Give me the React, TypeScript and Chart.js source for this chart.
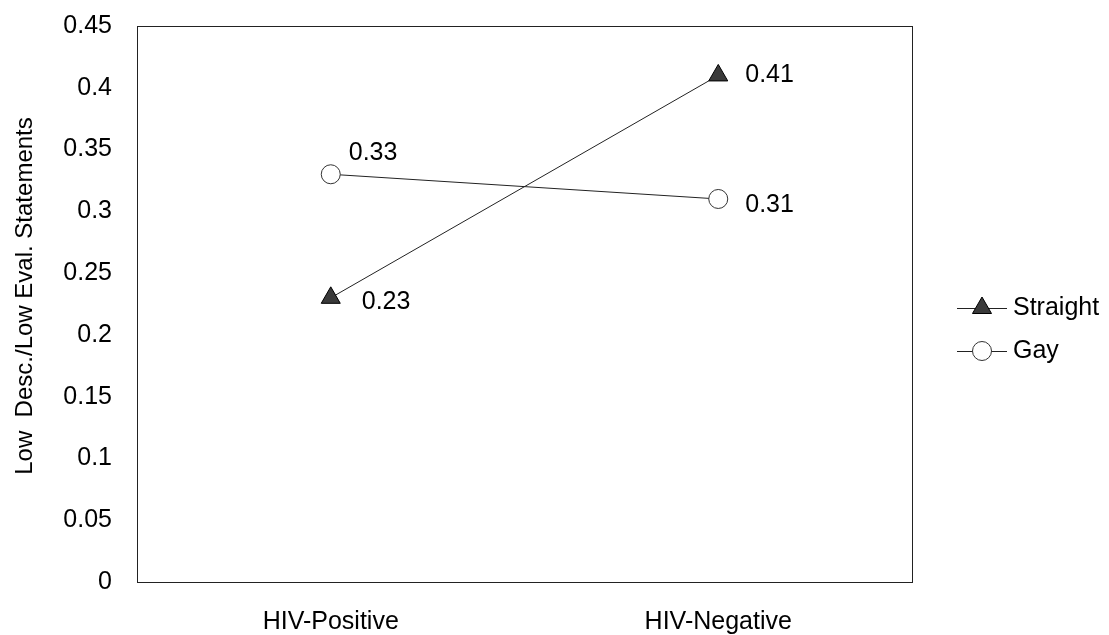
import React, { useEffect, useRef } from "react";
import { Chart, registerables } from "chart.js";

Chart.register(...registerables);

const categories = ["HIV-Positive", "HIV-Negative"];
const straightValues = [0.23, 0.41];
const gayValues = [0.33, 0.31];
const seriesNames = ["Straight", "Gay"];
const yTitle = "Low  Desc./Low Eval. Statements";
const yMin = 0;
const yMax = 0.45;
const yStep = 0.05;

const FONT = "'Liberation Sans', Arial, sans-serif";
const FS = 25;
const TITLE_FS = 24;

const labelOffsets = [
  [[31, 4], [27, 0]],
  [[18, -21], [27, 6]],
];

const framePlugin = {
  id: "frame",
  afterDraw(chart: any) {
    const { ctx, chartArea } = chart;
    ctx.save();
    ctx.strokeStyle = "#222";
    ctx.lineWidth = 1;
    ctx.strokeRect(
      Math.round(chartArea.left) + 0.5,
      Math.round(chartArea.top) + 0.5,
      Math.round(chartArea.right - chartArea.left),
      Math.round(chartArea.bottom - chartArea.top)
    );
    ctx.translate(25, 296);
    ctx.rotate(-Math.PI / 2);
    ctx.fillStyle = "#000";
    ctx.font = `${TITLE_FS}px ${FONT}`;
    ctx.textAlign = "center";
    ctx.textBaseline = "middle";
    ctx.fillText(yTitle, 0, 0);
    ctx.restore();
  },
};

const labelPlugin = {
  id: "pointLabels",
  afterDatasetsDraw(chart: any) {
    const { ctx } = chart;
    ctx.save();
    ctx.font = `${FS}px ${FONT}`;
    ctx.fillStyle = "#000";
    ctx.textAlign = "left";
    ctx.textBaseline = "middle";
    chart.data.datasets.forEach((ds: any, di: number) => {
      const meta = chart.getDatasetMeta(di);
      meta.data.forEach((pt: any, i: number) => {
        const [dx, dy] = labelOffsets[di][i];
        ctx.fillText(String(ds.data[i]), pt.x + dx, pt.y + dy);
      });
    });
    ctx.restore();
  },
};

const legendPlugin = {
  id: "customLegend",
  afterDraw(chart: any) {
    const { ctx } = chart;
    const x0 = 957;
    const x1 = 1007;
    const mx = 982;
    const ys = [308, 351];
    ctx.save();
    chart.data.datasets.forEach((ds: any, i: number) => {
      const y = ys[i];
      ctx.strokeStyle = "#222";
      ctx.lineWidth = 1;
      ctx.beginPath();
      ctx.moveTo(x0, y + 0.5);
      ctx.lineTo(x1, y + 0.5);
      ctx.stroke();
      ctx.beginPath();
      if (ds.pointStyle === "triangle") {
        const r = 11;
        ctx.moveTo(mx, y - r);
        ctx.lineTo(mx + r * 0.866, y + r * 0.5);
        ctx.lineTo(mx - r * 0.866, y + r * 0.5);
        ctx.closePath();
      } else {
        ctx.arc(mx, y, 9.5, 0, Math.PI * 2);
      }
      ctx.fillStyle = ds.pointBackgroundColor;
      ctx.fill();
      ctx.strokeStyle = ds.pointBorderColor;
      ctx.stroke();
      ctx.fillStyle = "#000";
      ctx.font = `${FS}px ${FONT}`;
      ctx.textAlign = "left";
      ctx.textBaseline = "middle";
      ctx.fillText(ds.label, 1013, y);
    });
    ctx.restore();
  },
};

export default function App() {
  const ref = useRef<HTMLCanvasElement>(null);
  useEffect(() => {
    if (!ref.current) return;
    const chart = new Chart(ref.current, {
      type: "line",
      data: {
        labels: categories,
        datasets: [
          {
            label: seriesNames[0],
            data: straightValues,
            borderColor: "#222",
            borderWidth: 1,
            pointStyle: "triangle",
            pointRadius: 11,
            pointBackgroundColor: "#3a3a3a",
            pointBorderColor: "#000",
            pointBorderWidth: 1,
            fill: false,
          } as any,
          {
            label: seriesNames[1],
            data: gayValues,
            borderColor: "#222",
            borderWidth: 1,
            pointStyle: "circle",
            pointRadius: 9.5,
            pointBackgroundColor: "#fff",
            pointBorderColor: "#333",
            pointBorderWidth: 1,
            fill: false,
          } as any,
        ],
      },
      options: {
        animation: false,
        responsive: false,
        maintainAspectRatio: false,
        layout: { padding: { left: 0, top: 26, right: 197, bottom: 0 } },
        plugins: {
          legend: { display: false },
          tooltip: { enabled: false },
        },
        scales: {
          x: {
            type: "category",
            offset: true,
            grid: { display: false, drawTicks: false },
            border: { display: false },
            ticks: {
              color: "#000",
              font: { family: FONT, size: FS },
              padding: 25,
              maxRotation: 0,
            },
            afterFit: (s: any) => {
              s.height = 53;
            },
          },
          y: {
            min: yMin,
            max: yMax,
            grid: { display: false, drawTicks: false },
            border: { display: false },
            ticks: {
              stepSize: yStep,
              color: "#000",
              font: { family: FONT, size: FS },
              padding: 25,
              callback: (v: any) => String(Number(Number(v).toFixed(2))),
            },
            title: { display: false },
            afterFit: (s: any) => {
              s.width = 137;
              s.paddingTop = 14;
              s.paddingBottom = 14;
            },
          },
        },
      },
      plugins: [framePlugin, labelPlugin, legendPlugin],
    });
    return () => chart.destroy();
  }, []);
  return (
    <div style={{ position: "fixed", left: 0, top: 0, width: 1109, height: 635, background: "#fff" }}>
      <canvas ref={ref} width={1109} height={635} style={{ display: "block" }} />
    </div>
  );
}
